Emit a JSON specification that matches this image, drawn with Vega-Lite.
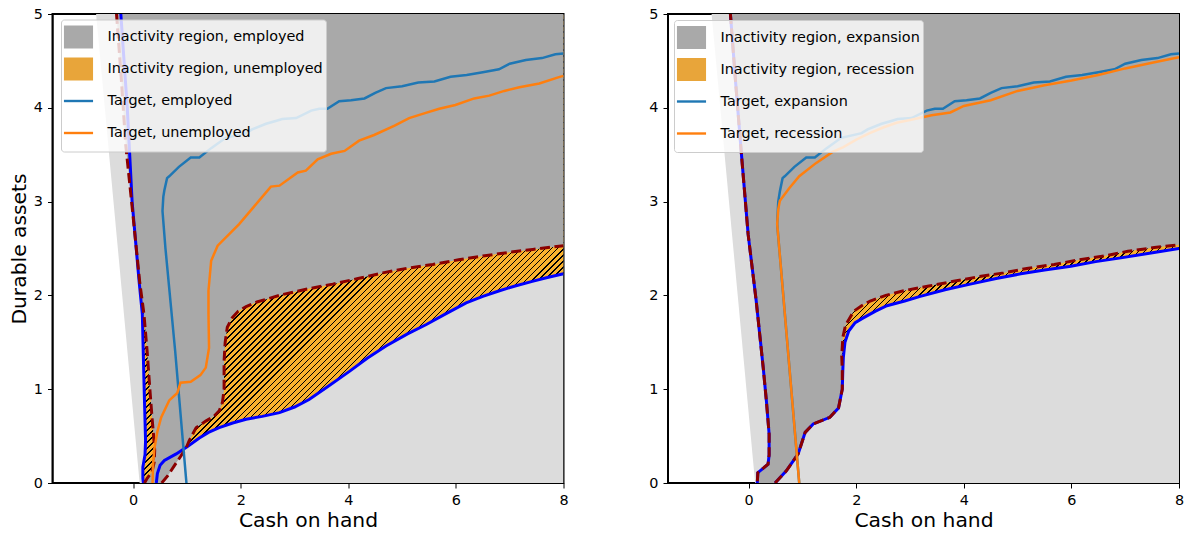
{
"$schema":"https://vega.github.io/schema/vega-lite/v6.json",
"padding":{"left":7.5,"top":5,"right":0,"bottom":0},
"background":"white",
"config":{
"font":"DejaVu Sans",
"view":{"stroke":"#000","strokeWidth":2},
"axis":{"domainColor":"#000","domainWidth":1,"tickColor":"#000","tickWidth":1,"tickSize":5,"labelPadding":5,"labelColor":"#000","labelFont":"DejaVu Sans","labelFontSize":14.4,"titleFont":"DejaVu Sans","titleFontSize":20.3,"titleFontWeight":"normal","titleColor":"#000","grid":false,"zindex":1,"labelFlush":false},
"axisX":{"titlePadding":4.5},
"axisY":{"titlePadding":4}
},
"datasets":{
"feas":[{"x":-0.69,"y":5},{"x":8,"y":5},{"x":8,"y":0},{"x":0.12,"y":0}],
"a_leg":[{"s":"Inactivity region, employed","x":8,"y":5},{"s":"Inactivity region, unemployed","x":8,"y":5},{"s":"Target, employed","x":8,"y":5},{"s":"Target, unemployed","x":8,"y":5}],
"b_leg":[{"s":"Inactivity region, expansion","x":8,"y":5},{"s":"Inactivity region, recession","x":8,"y":5},{"s":"Target, expansion","x":8,"y":5},{"s":"Target, recession","x":8,"y":5}],
"a_bp":[{"x":-0.23,"y":5},{"x":-0.11,"y":4},{"x":-0.02,"y":3},{"x":0.11,"y":2.15},{"x":0.17,"y":1.8},{"x":0.2,"y":1.09},{"x":0.23,"y":0.45},{"x":0.22,"y":0.3},{"x":0.18,"y":0.17},{"x":0.18,"y":0.05},{"x":0.19,"y":0},{"x":0.43,"y":0},{"x":0.45,"y":0.1},{"x":0.5,"y":0.19},{"x":0.58,"y":0.24},{"x":0.8,"y":0.31},{"x":1.01,"y":0.39},{"x":1.23,"y":0.48},{"x":1.4,"y":0.54},{"x":1.6,"y":0.59},{"x":1.85,"y":0.64},{"x":2.1,"y":0.68},{"x":2.4,"y":0.71},{"x":2.72,"y":0.75},{"x":3,"y":0.81},{"x":3.27,"y":0.89},{"x":3.6,"y":1.02},{"x":4.02,"y":1.19},{"x":4.35,"y":1.33},{"x":4.7,"y":1.46},{"x":5.1,"y":1.59},{"x":5.45,"y":1.69},{"x":5.8,"y":1.8},{"x":6.19,"y":1.92},{"x":6.5,"y":1.99},{"x":6.81,"y":2.05},{"x":7.1,"y":2.1},{"x":7.42,"y":2.15},{"x":7.7,"y":2.19},{"x":8,"y":2.23},{"x":8,"y":5}],
"a_bl":[{"seg":"L","x":-0.23,"y":5},{"seg":"L","x":-0.11,"y":4},{"seg":"L","x":-0.02,"y":3},{"seg":"L","x":0.11,"y":2.15},{"seg":"L","x":0.17,"y":1.8},{"seg":"L","x":0.2,"y":1.09},{"seg":"L","x":0.23,"y":0.45},{"seg":"L","x":0.22,"y":0.3},{"seg":"L","x":0.18,"y":0.17},{"seg":"L","x":0.18,"y":0.05},{"seg":"L","x":0.19,"y":0},{"seg":"R","x":0.43,"y":0},{"seg":"R","x":0.45,"y":0.1},{"seg":"R","x":0.5,"y":0.19},{"seg":"R","x":0.58,"y":0.24},{"seg":"R","x":0.8,"y":0.31},{"seg":"R","x":1.01,"y":0.39},{"seg":"R","x":1.23,"y":0.48},{"seg":"R","x":1.4,"y":0.54},{"seg":"R","x":1.6,"y":0.59},{"seg":"R","x":1.85,"y":0.64},{"seg":"R","x":2.1,"y":0.68},{"seg":"R","x":2.4,"y":0.71},{"seg":"R","x":2.72,"y":0.75},{"seg":"R","x":3,"y":0.81},{"seg":"R","x":3.27,"y":0.89},{"seg":"R","x":3.6,"y":1.02},{"seg":"R","x":4.02,"y":1.19},{"seg":"R","x":4.35,"y":1.33},{"seg":"R","x":4.7,"y":1.46},{"seg":"R","x":5.1,"y":1.59},{"seg":"R","x":5.45,"y":1.69},{"seg":"R","x":5.8,"y":1.8},{"seg":"R","x":6.19,"y":1.92},{"seg":"R","x":6.5,"y":1.99},{"seg":"R","x":6.81,"y":2.05},{"seg":"R","x":7.1,"y":2.1},{"seg":"R","x":7.42,"y":2.15},{"seg":"R","x":7.7,"y":2.19},{"seg":"R","x":8,"y":2.23}],
"a_dp":[{"x":-0.31,"y":5},{"x":-0.22,"y":4.3},{"x":-0.14,"y":3.61},{"x":-0.03,"y":3},{"x":0.12,"y":2.15},{"x":0.2,"y":1.8},{"x":0.26,"y":1.4},{"x":0.31,"y":1},{"x":0.35,"y":0.7},{"x":0.38,"y":0.5},{"x":0.4,"y":0.35},{"x":0.39,"y":0.22},{"x":0.35,"y":0.12},{"x":0.26,"y":0.05},{"x":0.21,"y":0},{"x":0.53,"y":0},{"x":0.64,"y":0.075},{"x":0.76,"y":0.18},{"x":0.89,"y":0.29},{"x":0.99,"y":0.38},{"x":1.04,"y":0.45},{"x":1.17,"y":0.59},{"x":1.35,"y":0.66},{"x":1.5,"y":0.71},{"x":1.6,"y":0.77},{"x":1.66,"y":0.86},{"x":1.69,"y":1},{"x":1.69,"y":1.3},{"x":1.71,"y":1.5},{"x":1.75,"y":1.66},{"x":1.84,"y":1.76},{"x":1.95,"y":1.83},{"x":2.1,"y":1.88},{"x":2.3,"y":1.93},{"x":2.78,"y":2.01},{"x":3.25,"y":2.07},{"x":3.71,"y":2.12},{"x":4.18,"y":2.18},{"x":4.64,"y":2.24},{"x":5.1,"y":2.29},{"x":5.57,"y":2.33},{"x":6.05,"y":2.38},{"x":6.5,"y":2.42},{"x":7,"y":2.46},{"x":7.43,"y":2.49},{"x":8,"y":2.53},{"x":8,"y":5}],
"a_dl":[{"seg":"L","x":-0.31,"y":5},{"seg":"L","x":-0.22,"y":4.3},{"seg":"L","x":-0.14,"y":3.61},{"seg":"L","x":-0.03,"y":3},{"seg":"L","x":0.12,"y":2.15},{"seg":"L","x":0.2,"y":1.8},{"seg":"L","x":0.26,"y":1.4},{"seg":"L","x":0.31,"y":1},{"seg":"L","x":0.35,"y":0.7},{"seg":"L","x":0.38,"y":0.5},{"seg":"L","x":0.4,"y":0.35},{"seg":"L","x":0.39,"y":0.22},{"seg":"L","x":0.35,"y":0.12},{"seg":"L","x":0.26,"y":0.05},{"seg":"L","x":0.21,"y":0},{"seg":"R","x":0.53,"y":0},{"seg":"R","x":0.64,"y":0.075},{"seg":"R","x":0.76,"y":0.18},{"seg":"R","x":0.89,"y":0.29},{"seg":"R","x":0.99,"y":0.38},{"seg":"R","x":1.04,"y":0.45},{"seg":"R","x":1.17,"y":0.59},{"seg":"R","x":1.35,"y":0.66},{"seg":"R","x":1.5,"y":0.71},{"seg":"R","x":1.6,"y":0.77},{"seg":"R","x":1.66,"y":0.86},{"seg":"R","x":1.69,"y":1},{"seg":"R","x":1.69,"y":1.3},{"seg":"R","x":1.71,"y":1.5},{"seg":"R","x":1.75,"y":1.66},{"seg":"R","x":1.84,"y":1.76},{"seg":"R","x":1.95,"y":1.83},{"seg":"R","x":2.1,"y":1.88},{"seg":"R","x":2.3,"y":1.93},{"seg":"R","x":2.78,"y":2.01},{"seg":"R","x":3.25,"y":2.07},{"seg":"R","x":3.71,"y":2.12},{"seg":"R","x":4.18,"y":2.18},{"seg":"R","x":4.64,"y":2.24},{"seg":"R","x":5.1,"y":2.29},{"seg":"R","x":5.57,"y":2.33},{"seg":"R","x":6.05,"y":2.38},{"seg":"R","x":6.5,"y":2.42},{"seg":"R","x":7,"y":2.46},{"seg":"R","x":7.43,"y":2.49},{"seg":"R","x":8,"y":2.53}],
"a_t":[{"s":"Target, employed","x":0.99,"y":0},{"s":"Target, employed","x":0.78,"y":1.41},{"s":"Target, employed","x":0.6,"y":2.5},{"s":"Target, employed","x":0.545,"y":2.9},{"s":"Target, employed","x":0.56,"y":3.05},{"s":"Target, employed","x":0.58,"y":3.12},{"s":"Target, employed","x":0.63,"y":3.25},{"s":"Target, employed","x":0.67,"y":3.27},{"s":"Target, employed","x":0.85,"y":3.37},{"s":"Target, employed","x":1.07,"y":3.47},{"s":"Target, employed","x":1.23,"y":3.47},{"s":"Target, employed","x":1.45,"y":3.57},{"s":"Target, employed","x":1.72,"y":3.68},{"s":"Target, employed","x":2.1,"y":3.73},{"s":"Target, employed","x":2.21,"y":3.77},{"s":"Target, employed","x":2.47,"y":3.83},{"s":"Target, employed","x":2.65,"y":3.86},{"s":"Target, employed","x":2.77,"y":3.88},{"s":"Target, employed","x":3.03,"y":3.89},{"s":"Target, employed","x":3.31,"y":3.97},{"s":"Target, employed","x":3.46,"y":3.99},{"s":"Target, employed","x":3.61,"y":3.99},{"s":"Target, employed","x":3.83,"y":4.07},{"s":"Target, employed","x":4.05,"y":4.08},{"s":"Target, employed","x":4.3,"y":4.1},{"s":"Target, employed","x":4.5,"y":4.16},{"s":"Target, employed","x":4.7,"y":4.21},{"s":"Target, employed","x":5,"y":4.23},{"s":"Target, employed","x":5.3,"y":4.27},{"s":"Target, employed","x":5.6,"y":4.28},{"s":"Target, employed","x":5.9,"y":4.33},{"s":"Target, employed","x":6.2,"y":4.35},{"s":"Target, employed","x":6.5,"y":4.38},{"s":"Target, employed","x":6.8,"y":4.41},{"s":"Target, employed","x":7,"y":4.47},{"s":"Target, employed","x":7.3,"y":4.51},{"s":"Target, employed","x":7.6,"y":4.53},{"s":"Target, employed","x":7.85,"y":4.57},{"s":"Target, employed","x":8,"y":4.58},
{"s":"Target, unemployed","x":0.36,"y":0},{"s":"Target, unemployed","x":0.37,"y":0.2},{"s":"Target, unemployed","x":0.39,"y":0.35},{"s":"Target, unemployed","x":0.45,"y":0.55},{"s":"Target, unemployed","x":0.52,"y":0.7},{"s":"Target, unemployed","x":0.67,"y":0.88},{"s":"Target, unemployed","x":0.82,"y":0.96},{"s":"Target, unemployed","x":0.88,"y":1.07},{"s":"Target, unemployed","x":1.07,"y":1.08},{"s":"Target, unemployed","x":1.25,"y":1.15},{"s":"Target, unemployed","x":1.35,"y":1.23},{"s":"Target, unemployed","x":1.41,"y":1.44},{"s":"Target, unemployed","x":1.4,"y":1.8},{"s":"Target, unemployed","x":1.4,"y":2.05},{"s":"Target, unemployed","x":1.45,"y":2.37},{"s":"Target, unemployed","x":1.57,"y":2.53},{"s":"Target, unemployed","x":1.97,"y":2.76},{"s":"Target, unemployed","x":2.34,"y":3.01},{"s":"Target, unemployed","x":2.56,"y":3.16},{"s":"Target, unemployed","x":2.72,"y":3.17},{"s":"Target, unemployed","x":3.06,"y":3.31},{"s":"Target, unemployed","x":3.21,"y":3.33},{"s":"Target, unemployed","x":3.43,"y":3.45},{"s":"Target, unemployed","x":3.68,"y":3.51},{"s":"Target, unemployed","x":3.93,"y":3.54},{"s":"Target, unemployed","x":4.2,"y":3.65},{"s":"Target, unemployed","x":4.48,"y":3.71},{"s":"Target, unemployed","x":4.86,"y":3.81},{"s":"Target, unemployed","x":5.13,"y":3.89},{"s":"Target, unemployed","x":5.41,"y":3.94},{"s":"Target, unemployed","x":5.69,"y":3.99},{"s":"Target, unemployed","x":5.99,"y":4.03},{"s":"Target, unemployed","x":6.34,"y":4.1},{"s":"Target, unemployed","x":6.62,"y":4.13},{"s":"Target, unemployed","x":6.9,"y":4.18},{"s":"Target, unemployed","x":7.18,"y":4.22},{"s":"Target, unemployed","x":7.55,"y":4.26},{"s":"Target, unemployed","x":7.93,"y":4.33},{"s":"Target, unemployed","x":8,"y":4.34}],
"b_bp":[{"x":-0.34,"y":5},{"x":-0.24,"y":4.25},{"x":-0.14,"y":3.54},{"x":-0.01,"y":2.65},{"x":0.14,"y":1.94},{"x":0.27,"y":1.23},{"x":0.33,"y":0.87},{"x":0.38,"y":0.52},{"x":0.38,"y":0.3},{"x":0.36,"y":0.2},{"x":0.17,"y":0.11},{"x":0.16,"y":0},{"x":0.49,"y":0},{"x":0.7,"y":0.13},{"x":0.92,"y":0.31},{"x":1.05,"y":0.54},{"x":1.2,"y":0.63},{"x":1.51,"y":0.7},{"x":1.67,"y":0.8},{"x":1.74,"y":1},{"x":1.75,"y":1.2},{"x":1.76,"y":1.34},{"x":1.79,"y":1.5},{"x":1.86,"y":1.62},{"x":1.98,"y":1.71},{"x":2.13,"y":1.76},{"x":2.35,"y":1.83},{"x":2.57,"y":1.89},{"x":2.9,"y":1.94},{"x":3.19,"y":1.99},{"x":3.65,"y":2.06},{"x":4.12,"y":2.12},{"x":4.6,"y":2.18},{"x":5.06,"y":2.23},{"x":5.5,"y":2.27},{"x":5.99,"y":2.31},{"x":6.45,"y":2.36},{"x":6.92,"y":2.4},{"x":7.45,"y":2.45},{"x":8,"y":2.5},{"x":8,"y":5}],
"b_bl":[{"seg":"L","x":-0.34,"y":5},{"seg":"L","x":-0.24,"y":4.25},{"seg":"L","x":-0.14,"y":3.54},{"seg":"L","x":-0.01,"y":2.65},{"seg":"L","x":0.14,"y":1.94},{"seg":"L","x":0.27,"y":1.23},{"seg":"L","x":0.33,"y":0.87},{"seg":"L","x":0.38,"y":0.52},{"seg":"L","x":0.38,"y":0.3},{"seg":"L","x":0.36,"y":0.2},{"seg":"L","x":0.17,"y":0.11},{"seg":"L","x":0.16,"y":0},{"seg":"R","x":0.49,"y":0},{"seg":"R","x":0.7,"y":0.13},{"seg":"R","x":0.92,"y":0.31},{"seg":"R","x":1.05,"y":0.54},{"seg":"R","x":1.2,"y":0.63},{"seg":"R","x":1.51,"y":0.7},{"seg":"R","x":1.67,"y":0.8},{"seg":"R","x":1.74,"y":1},{"seg":"R","x":1.75,"y":1.2},{"seg":"R","x":1.76,"y":1.34},{"seg":"R","x":1.79,"y":1.5},{"seg":"R","x":1.86,"y":1.62},{"seg":"R","x":1.98,"y":1.71},{"seg":"R","x":2.13,"y":1.76},{"seg":"R","x":2.35,"y":1.83},{"seg":"R","x":2.57,"y":1.89},{"seg":"R","x":2.9,"y":1.94},{"seg":"R","x":3.19,"y":1.99},{"seg":"R","x":3.65,"y":2.06},{"seg":"R","x":4.12,"y":2.12},{"seg":"R","x":4.6,"y":2.18},{"seg":"R","x":5.06,"y":2.23},{"seg":"R","x":5.5,"y":2.27},{"seg":"R","x":5.99,"y":2.31},{"seg":"R","x":6.45,"y":2.36},{"seg":"R","x":6.92,"y":2.4},{"seg":"R","x":7.45,"y":2.45},{"seg":"R","x":8,"y":2.5}],
"b_dp":[{"x":-0.34,"y":5},{"x":-0.24,"y":4.25},{"x":-0.14,"y":3.54},{"x":-0.01,"y":2.65},{"x":0.14,"y":1.94},{"x":0.27,"y":1.23},{"x":0.33,"y":0.87},{"x":0.38,"y":0.52},{"x":0.38,"y":0.3},{"x":0.36,"y":0.2},{"x":0.17,"y":0.11},{"x":0.16,"y":0},{"x":0.49,"y":0},{"x":0.7,"y":0.13},{"x":0.92,"y":0.31},{"x":1.05,"y":0.54},{"x":1.2,"y":0.63},{"x":1.51,"y":0.7},{"x":1.67,"y":0.8},{"x":1.74,"y":1},{"x":1.74,"y":1.2},{"x":1.73,"y":1.35},{"x":1.75,"y":1.55},{"x":1.8,"y":1.68},{"x":1.95,"y":1.83},{"x":2.1,"y":1.89},{"x":2.26,"y":1.94},{"x":2.55,"y":2},{"x":2.88,"y":2.05},{"x":3.35,"y":2.1},{"x":3.81,"y":2.15},{"x":4.28,"y":2.2},{"x":4.74,"y":2.24},{"x":5.2,"y":2.29},{"x":5.68,"y":2.33},{"x":6.15,"y":2.38},{"x":6.61,"y":2.42},{"x":7.05,"y":2.47},{"x":7.54,"y":2.51},{"x":8,"y":2.54},{"x":8,"y":5}],
"b_dl":[{"seg":"L","x":-0.34,"y":5},{"seg":"L","x":-0.24,"y":4.25},{"seg":"L","x":-0.14,"y":3.54},{"seg":"L","x":-0.01,"y":2.65},{"seg":"L","x":0.14,"y":1.94},{"seg":"L","x":0.27,"y":1.23},{"seg":"L","x":0.33,"y":0.87},{"seg":"L","x":0.38,"y":0.52},{"seg":"L","x":0.38,"y":0.3},{"seg":"L","x":0.36,"y":0.2},{"seg":"L","x":0.17,"y":0.11},{"seg":"L","x":0.16,"y":0},{"seg":"R","x":0.49,"y":0},{"seg":"R","x":0.7,"y":0.13},{"seg":"R","x":0.92,"y":0.31},{"seg":"R","x":1.05,"y":0.54},{"seg":"R","x":1.2,"y":0.63},{"seg":"R","x":1.51,"y":0.7},{"seg":"R","x":1.67,"y":0.8},{"seg":"R","x":1.74,"y":1},{"seg":"R","x":1.74,"y":1.2},{"seg":"R","x":1.73,"y":1.35},{"seg":"R","x":1.75,"y":1.55},{"seg":"R","x":1.8,"y":1.68},{"seg":"R","x":1.95,"y":1.83},{"seg":"R","x":2.1,"y":1.89},{"seg":"R","x":2.26,"y":1.94},{"seg":"R","x":2.55,"y":2},{"seg":"R","x":2.88,"y":2.05},{"seg":"R","x":3.35,"y":2.1},{"seg":"R","x":3.81,"y":2.15},{"seg":"R","x":4.28,"y":2.2},{"seg":"R","x":4.74,"y":2.24},{"seg":"R","x":5.2,"y":2.29},{"seg":"R","x":5.68,"y":2.33},{"seg":"R","x":6.15,"y":2.38},{"seg":"R","x":6.61,"y":2.42},{"seg":"R","x":7.05,"y":2.47},{"seg":"R","x":7.54,"y":2.51},{"seg":"R","x":8,"y":2.54}],
"b_t":[{"s":"Target, expansion","x":0.94,"y":0},{"s":"Target, expansion","x":0.53,"y":2.76},{"s":"Target, expansion","x":0.55,"y":3},{"s":"Target, expansion","x":0.58,"y":3.11},{"s":"Target, expansion","x":0.63,"y":3.25},{"s":"Target, expansion","x":0.67,"y":3.27},{"s":"Target, expansion","x":0.85,"y":3.37},{"s":"Target, expansion","x":1.07,"y":3.47},{"s":"Target, expansion","x":1.23,"y":3.47},{"s":"Target, expansion","x":1.45,"y":3.57},{"s":"Target, expansion","x":1.72,"y":3.68},{"s":"Target, expansion","x":2.1,"y":3.73},{"s":"Target, expansion","x":2.21,"y":3.77},{"s":"Target, expansion","x":2.47,"y":3.83},{"s":"Target, expansion","x":2.65,"y":3.86},{"s":"Target, expansion","x":2.77,"y":3.88},{"s":"Target, expansion","x":3.03,"y":3.89},{"s":"Target, expansion","x":3.31,"y":3.97},{"s":"Target, expansion","x":3.46,"y":3.99},{"s":"Target, expansion","x":3.61,"y":3.99},{"s":"Target, expansion","x":3.83,"y":4.07},{"s":"Target, expansion","x":4.05,"y":4.08},{"s":"Target, expansion","x":4.3,"y":4.1},{"s":"Target, expansion","x":4.5,"y":4.16},{"s":"Target, expansion","x":4.7,"y":4.21},{"s":"Target, expansion","x":5,"y":4.23},{"s":"Target, expansion","x":5.3,"y":4.27},{"s":"Target, expansion","x":5.6,"y":4.28},{"s":"Target, expansion","x":5.9,"y":4.33},{"s":"Target, expansion","x":6.2,"y":4.35},{"s":"Target, expansion","x":6.5,"y":4.38},{"s":"Target, expansion","x":6.8,"y":4.41},{"s":"Target, expansion","x":7,"y":4.47},{"s":"Target, expansion","x":7.3,"y":4.51},{"s":"Target, expansion","x":7.6,"y":4.53},{"s":"Target, expansion","x":7.85,"y":4.57},{"s":"Target, expansion","x":8,"y":4.58},
{"s":"Target, recession","x":0.94,"y":0},{"s":"Target, recession","x":0.53,"y":2.76},{"s":"Target, recession","x":0.55,"y":2.92},{"s":"Target, recession","x":0.58,"y":3.01},{"s":"Target, recession","x":0.75,"y":3.14},{"s":"Target, recession","x":0.94,"y":3.27},{"s":"Target, recession","x":1.25,"y":3.41},{"s":"Target, recession","x":1.56,"y":3.53},{"s":"Target, recession","x":1.76,"y":3.58},{"s":"Target, recession","x":2,"y":3.66},{"s":"Target, recession","x":2.25,"y":3.73},{"s":"Target, recession","x":2.5,"y":3.79},{"s":"Target, recession","x":2.75,"y":3.84},{"s":"Target, recession","x":3,"y":3.87},{"s":"Target, recession","x":3.4,"y":3.92},{"s":"Target, recession","x":3.75,"y":3.95},{"s":"Target, recession","x":4,"y":4.02},{"s":"Target, recession","x":4.5,"y":4.08},{"s":"Target, recession","x":5,"y":4.18},{"s":"Target, recession","x":5.5,"y":4.24},{"s":"Target, recession","x":6,"y":4.29},{"s":"Target, recession","x":6.5,"y":4.35},{"s":"Target, recession","x":7,"y":4.42},{"s":"Target, recession","x":7.5,"y":4.48},{"s":"Target, recession","x":8,"y":4.54}]
},
"hconcat":[
{"width":511,"height":469,
"encoding":{
"x":{"field":"x","type":"quantitative","scale":{"domain":[-1.5,8],"nice":false,"zero":false},"axis":{"values":[0,2,4,6,8],"format":"d","title":"Cash on hand"}},
"y":{"field":"y","type":"quantitative","scale":{"domain":[0,5],"nice":false,"zero":false},"axis":{"values":[0,1,2,3,4,5],"format":"d","title":"Durable assets"}}
},
"layer":[
{"data":{"name":"feas"},"mark":{"type":"line","fill":"#dcdcdc","stroke":"transparent","clip":true},"encoding":{"order":{"value":null}}},
{"data":{"name":"a_bp"},"mark":{"type":"line","stroke":"transparent","clip":true,"fill":{"gradient":"linear","x1":0,"y1":0,"x2":0.9703,"y2":1.028,"stops":[{"offset":0,"color":"#fab22e"},
{"offset":0.3,"color":"#fab22e"},{"offset":0.3,"color":"#000"},{"offset":0.3017,"color":"#000"},{"offset":0.3017,"color":"#fab22e"},
{"offset":0.3066,"color":"#fab22e"},{"offset":0.3066,"color":"#000"},{"offset":0.3083,"color":"#000"},{"offset":0.3083,"color":"#fab22e"},
{"offset":0.3132,"color":"#fab22e"},{"offset":0.3132,"color":"#000"},{"offset":0.3149,"color":"#000"},{"offset":0.3149,"color":"#fab22e"},
{"offset":0.3198,"color":"#fab22e"},{"offset":0.3198,"color":"#000"},{"offset":0.3215,"color":"#000"},{"offset":0.3215,"color":"#fab22e"},
{"offset":0.3264,"color":"#fab22e"},{"offset":0.3264,"color":"#000"},{"offset":0.3281,"color":"#000"},{"offset":0.3281,"color":"#fab22e"},
{"offset":0.333,"color":"#fab22e"},{"offset":0.333,"color":"#000"},{"offset":0.3347,"color":"#000"},{"offset":0.3347,"color":"#fab22e"},
{"offset":0.3396,"color":"#fab22e"},{"offset":0.3396,"color":"#000"},{"offset":0.3413,"color":"#000"},{"offset":0.3413,"color":"#fab22e"},
{"offset":0.3462,"color":"#fab22e"},{"offset":0.3462,"color":"#000"},{"offset":0.3479,"color":"#000"},{"offset":0.3479,"color":"#fab22e"},
{"offset":0.3528,"color":"#fab22e"},{"offset":0.3528,"color":"#000"},{"offset":0.3545,"color":"#000"},{"offset":0.3545,"color":"#fab22e"},
{"offset":0.3594,"color":"#fab22e"},{"offset":0.3594,"color":"#000"},{"offset":0.3611,"color":"#000"},{"offset":0.3611,"color":"#fab22e"},
{"offset":0.366,"color":"#fab22e"},{"offset":0.366,"color":"#000"},{"offset":0.3677,"color":"#000"},{"offset":0.3677,"color":"#fab22e"},
{"offset":0.3726,"color":"#fab22e"},{"offset":0.3726,"color":"#000"},{"offset":0.3743,"color":"#000"},{"offset":0.3743,"color":"#fab22e"},
{"offset":0.3792,"color":"#fab22e"},{"offset":0.3792,"color":"#000"},{"offset":0.3809,"color":"#000"},{"offset":0.3809,"color":"#fab22e"},
{"offset":0.3858,"color":"#fab22e"},{"offset":0.3858,"color":"#000"},{"offset":0.3875,"color":"#000"},{"offset":0.3875,"color":"#fab22e"},
{"offset":0.3924,"color":"#fab22e"},{"offset":0.3924,"color":"#000"},{"offset":0.3941,"color":"#000"},{"offset":0.3941,"color":"#fab22e"},
{"offset":0.399,"color":"#fab22e"},{"offset":0.399,"color":"#000"},{"offset":0.4007,"color":"#000"},{"offset":0.4007,"color":"#fab22e"},
{"offset":0.4056,"color":"#fab22e"},{"offset":0.4056,"color":"#000"},{"offset":0.4073,"color":"#000"},{"offset":0.4073,"color":"#fab22e"},
{"offset":0.4122,"color":"#fab22e"},{"offset":0.4122,"color":"#000"},{"offset":0.4139,"color":"#000"},{"offset":0.4139,"color":"#fab22e"},
{"offset":0.4188,"color":"#fab22e"},{"offset":0.4188,"color":"#000"},{"offset":0.4205,"color":"#000"},{"offset":0.4205,"color":"#fab22e"},
{"offset":0.4254,"color":"#fab22e"},{"offset":0.4254,"color":"#000"},{"offset":0.4271,"color":"#000"},{"offset":0.4271,"color":"#fab22e"},
{"offset":0.432,"color":"#fab22e"},{"offset":0.432,"color":"#000"},{"offset":0.4337,"color":"#000"},{"offset":0.4337,"color":"#fab22e"},
{"offset":0.4386,"color":"#fab22e"},{"offset":0.4386,"color":"#000"},{"offset":0.4403,"color":"#000"},{"offset":0.4403,"color":"#fab22e"},
{"offset":0.4452,"color":"#fab22e"},{"offset":0.4452,"color":"#000"},{"offset":0.4469,"color":"#000"},{"offset":0.4469,"color":"#fab22e"},
{"offset":0.4518,"color":"#fab22e"},{"offset":0.4518,"color":"#000"},{"offset":0.4535,"color":"#000"},{"offset":0.4535,"color":"#fab22e"},
{"offset":0.4584,"color":"#fab22e"},{"offset":0.4584,"color":"#000"},{"offset":0.4601,"color":"#000"},{"offset":0.4601,"color":"#fab22e"},
{"offset":0.465,"color":"#fab22e"},{"offset":0.465,"color":"#000"},{"offset":0.4667,"color":"#000"},{"offset":0.4667,"color":"#fab22e"},
{"offset":0.4716,"color":"#fab22e"},{"offset":0.4716,"color":"#000"},{"offset":0.4733,"color":"#000"},{"offset":0.4733,"color":"#fab22e"},
{"offset":0.4782,"color":"#fab22e"},{"offset":0.4782,"color":"#000"},{"offset":0.4799,"color":"#000"},{"offset":0.4799,"color":"#fab22e"},
{"offset":0.4848,"color":"#fab22e"},{"offset":0.4848,"color":"#000"},{"offset":0.4865,"color":"#000"},{"offset":0.4865,"color":"#fab22e"},
{"offset":0.4914,"color":"#fab22e"},{"offset":0.4914,"color":"#000"},{"offset":0.4931,"color":"#000"},{"offset":0.4931,"color":"#fab22e"},
{"offset":0.498,"color":"#fab22e"},{"offset":0.498,"color":"#000"},{"offset":0.4997,"color":"#000"},{"offset":0.4997,"color":"#fab22e"},
{"offset":0.5046,"color":"#fab22e"},{"offset":0.5046,"color":"#000"},{"offset":0.5063,"color":"#000"},{"offset":0.5063,"color":"#fab22e"},
{"offset":0.5112,"color":"#fab22e"},{"offset":0.5112,"color":"#000"},{"offset":0.5129,"color":"#000"},{"offset":0.5129,"color":"#fab22e"},
{"offset":0.5178,"color":"#fab22e"},{"offset":0.5178,"color":"#000"},{"offset":0.5195,"color":"#000"},{"offset":0.5195,"color":"#fab22e"},
{"offset":0.5244,"color":"#fab22e"},{"offset":0.5244,"color":"#000"},{"offset":0.5261,"color":"#000"},{"offset":0.5261,"color":"#fab22e"},
{"offset":0.531,"color":"#fab22e"},{"offset":0.531,"color":"#000"},{"offset":0.5327,"color":"#000"},{"offset":0.5327,"color":"#fab22e"},
{"offset":0.5376,"color":"#fab22e"},{"offset":0.5376,"color":"#000"},{"offset":0.5393,"color":"#000"},{"offset":0.5393,"color":"#fab22e"},
{"offset":0.5442,"color":"#fab22e"},{"offset":0.5442,"color":"#000"},{"offset":0.5459,"color":"#000"},{"offset":0.5459,"color":"#fab22e"},
{"offset":0.5508,"color":"#fab22e"},{"offset":0.5508,"color":"#000"},{"offset":0.5525,"color":"#000"},{"offset":0.5525,"color":"#fab22e"},
{"offset":0.5574,"color":"#fab22e"},{"offset":0.5574,"color":"#000"},{"offset":0.5591,"color":"#000"},{"offset":0.5591,"color":"#fab22e"},
{"offset":0.564,"color":"#fab22e"},{"offset":0.564,"color":"#000"},{"offset":0.5657,"color":"#000"},{"offset":0.5657,"color":"#fab22e"},
{"offset":0.5706,"color":"#fab22e"},{"offset":0.5706,"color":"#000"},{"offset":0.5723,"color":"#000"},{"offset":0.5723,"color":"#fab22e"},
{"offset":0.5772,"color":"#fab22e"},{"offset":0.5772,"color":"#000"},{"offset":0.5789,"color":"#000"},{"offset":0.5789,"color":"#fab22e"},
{"offset":0.5838,"color":"#fab22e"},{"offset":0.5838,"color":"#000"},{"offset":0.5855,"color":"#000"},{"offset":0.5855,"color":"#fab22e"},
{"offset":0.5904,"color":"#fab22e"},{"offset":0.5904,"color":"#000"},{"offset":0.5921,"color":"#000"},{"offset":0.5921,"color":"#fab22e"},
{"offset":0.597,"color":"#fab22e"},{"offset":0.597,"color":"#000"},{"offset":0.5987,"color":"#000"},{"offset":0.5987,"color":"#fab22e"},
{"offset":0.6036,"color":"#fab22e"},{"offset":0.6036,"color":"#000"},{"offset":0.6053,"color":"#000"},{"offset":0.6053,"color":"#fab22e"},
{"offset":0.6102,"color":"#fab22e"},{"offset":0.6102,"color":"#000"},{"offset":0.6119,"color":"#000"},{"offset":0.6119,"color":"#fab22e"},
{"offset":0.6168,"color":"#fab22e"},{"offset":0.6168,"color":"#000"},{"offset":0.6185,"color":"#000"},{"offset":0.6185,"color":"#fab22e"},
{"offset":0.6234,"color":"#fab22e"},{"offset":0.6234,"color":"#000"},{"offset":0.6251,"color":"#000"},{"offset":0.6251,"color":"#fab22e"},
{"offset":0.63,"color":"#fab22e"},{"offset":0.63,"color":"#000"},{"offset":0.6317,"color":"#000"},{"offset":0.6317,"color":"#fab22e"},
{"offset":0.6366,"color":"#fab22e"},{"offset":0.6366,"color":"#000"},{"offset":0.6383,"color":"#000"},{"offset":0.6383,"color":"#fab22e"},
{"offset":0.6432,"color":"#fab22e"},{"offset":0.6432,"color":"#000"},{"offset":0.6449,"color":"#000"},{"offset":0.6449,"color":"#fab22e"},
{"offset":0.6498,"color":"#fab22e"},{"offset":0.6498,"color":"#000"},{"offset":0.6515,"color":"#000"},{"offset":0.6515,"color":"#fab22e"},
{"offset":0.6564,"color":"#fab22e"},{"offset":0.6564,"color":"#000"},{"offset":0.6581,"color":"#000"},{"offset":0.6581,"color":"#fab22e"},
{"offset":0.663,"color":"#fab22e"},{"offset":0.663,"color":"#000"},{"offset":0.6647,"color":"#000"},{"offset":0.6647,"color":"#fab22e"},
{"offset":0.6696,"color":"#fab22e"},{"offset":0.6696,"color":"#000"},{"offset":0.6713,"color":"#000"},{"offset":0.6713,"color":"#fab22e"},
{"offset":0.6762,"color":"#fab22e"},{"offset":0.6762,"color":"#000"},{"offset":0.6779,"color":"#000"},{"offset":0.6779,"color":"#fab22e"},
{"offset":0.6828,"color":"#fab22e"},{"offset":0.6828,"color":"#000"},{"offset":0.6845,"color":"#000"},{"offset":0.6845,"color":"#fab22e"},
{"offset":0.6894,"color":"#fab22e"},{"offset":0.6894,"color":"#000"},{"offset":0.6911,"color":"#000"},{"offset":0.6911,"color":"#fab22e"},
{"offset":0.696,"color":"#fab22e"},{"offset":0.696,"color":"#000"},{"offset":0.6977,"color":"#000"},{"offset":0.6977,"color":"#fab22e"},
{"offset":0.7026,"color":"#fab22e"},{"offset":0.7026,"color":"#000"},{"offset":0.7043,"color":"#000"},{"offset":0.7043,"color":"#fab22e"},
{"offset":0.7092,"color":"#fab22e"},{"offset":0.7092,"color":"#000"},{"offset":0.7109,"color":"#000"},{"offset":0.7109,"color":"#fab22e"},
{"offset":0.7158,"color":"#fab22e"},{"offset":0.7158,"color":"#000"},{"offset":0.7175,"color":"#000"},{"offset":0.7175,"color":"#fab22e"},
{"offset":0.7224,"color":"#fab22e"},{"offset":0.7224,"color":"#000"},{"offset":0.7241,"color":"#000"},{"offset":0.7241,"color":"#fab22e"},
{"offset":0.729,"color":"#fab22e"},{"offset":0.729,"color":"#000"},{"offset":0.7307,"color":"#000"},{"offset":0.7307,"color":"#fab22e"},
{"offset":0.7356,"color":"#fab22e"},{"offset":0.7356,"color":"#000"},{"offset":0.7373,"color":"#000"},{"offset":0.7373,"color":"#fab22e"},
{"offset":0.7422,"color":"#fab22e"},{"offset":0.7422,"color":"#000"},{"offset":0.7439,"color":"#000"},{"offset":0.7439,"color":"#fab22e"},
{"offset":0.7488,"color":"#fab22e"},{"offset":0.7488,"color":"#000"},{"offset":0.7505,"color":"#000"},{"offset":0.7505,"color":"#fab22e"},
{"offset":0.7554,"color":"#fab22e"},{"offset":0.7554,"color":"#000"},{"offset":0.7571,"color":"#000"},{"offset":0.7571,"color":"#fab22e"},
{"offset":0.762,"color":"#fab22e"},{"offset":0.762,"color":"#000"},{"offset":0.7637,"color":"#000"},{"offset":0.7637,"color":"#fab22e"},
{"offset":0.7686,"color":"#fab22e"},{"offset":0.7686,"color":"#000"},{"offset":0.7703,"color":"#000"},{"offset":0.7703,"color":"#fab22e"},
{"offset":0.7752,"color":"#fab22e"},{"offset":0.7752,"color":"#000"},{"offset":0.7769,"color":"#000"},{"offset":0.7769,"color":"#fab22e"},
{"offset":0.7818,"color":"#fab22e"},{"offset":0.7818,"color":"#000"},{"offset":0.7835,"color":"#000"},{"offset":0.7835,"color":"#fab22e"},
{"offset":1,"color":"#fab22e"}]}},"encoding":{"order":{"value":null}}},
{"data":{"name":"a_dp"},"mark":{"type":"line","fill":"#a9a9a9","stroke":"transparent","clip":true},"encoding":{"order":{"value":null}}},
{"data":{"name":"a_bl"},"mark":{"type":"line","stroke":"#0000ff","strokeWidth":3,"clip":true},"encoding":{"detail":{"field":"seg"},"order":{"value":null}}},
{"data":{"name":"a_dl"},"mark":{"type":"line","stroke":"#8b0000","strokeWidth":3,"strokeDash":[10,4.5],"clip":true},"encoding":{"detail":{"field":"seg"},"order":{"value":null}}},
{"data":{"name":"a_t"},"transform":[{"filter":"datum.s === 'Target, employed'"}],"mark":{"type":"line","stroke":"#1f77b4","strokeWidth":2.5,"clip":true},"encoding":{"order":{"value":null}}},
{"data":{"name":"a_t"},"transform":[{"filter":"datum.s === 'Target, unemployed'"}],"mark":{"type":"line","stroke":"#ff7f0e","strokeWidth":2.5,"clip":true},"encoding":{"order":{"value":null}}},
{"data":{"name":"a_leg"},"mark":{"type":"point","filled":true,"opacity":0,"strokeWidth":2.4,"clip":true},"encoding":{
"fill":{"field":"s","type":"nominal","scale":{"domain":["Inactivity region, employed","Inactivity region, unemployed","Target, employed","Target, unemployed"],"range":["#a9a9a9","#e8a53a","transparent","transparent"]},"legend":{"orient":"none","legendX":8.5,"legendY":5.5,"title":null,"symbolSize":713,"symbolStrokeWidth":2.4,"symbolOpacity":1,"labelOffset":14,"rowPadding":0,"padding":2.5,"labelFont":"DejaVu Sans","labelFontSize":14.4,"labelColor":"#000","labelLimit":400,"fillColor":"rgba(255,255,255,0.8)","strokeColor":"#cccccc","cornerRadius":3}},
"stroke":{"field":"s","type":"nominal","scale":{"domain":["Inactivity region, employed","Inactivity region, unemployed","Target, employed","Target, unemployed"],"range":["#a9a9a9","#e8a53a","#1f77b4","#ff7f0e"]},"legend":{"orient":"none","legendX":8.5,"legendY":5.5,"title":null,"symbolSize":713,"symbolStrokeWidth":2.4,"symbolOpacity":1,"labelOffset":14,"rowPadding":0,"padding":2.5,"labelFont":"DejaVu Sans","labelFontSize":14.4,"labelColor":"#000","labelLimit":400,"fillColor":"rgba(255,255,255,0.8)","strokeColor":"#cccccc","cornerRadius":3}},
"shape":{"field":"s","type":"nominal","scale":{"domain":["Inactivity region, employed","Inactivity region, unemployed","Target, employed","Target, unemployed"],"range":["M-1,-0.77H1V0.77H-1Z","M-1,-0.77H1V0.77H-1Z","M-1,-0.77M-1.09,0H1.09M1,0.77","M-1,-0.77M-1.09,0H1.09M1,0.77"]},"legend":{"orient":"none","legendX":8.5,"legendY":5.5,"title":null,"symbolSize":713,"symbolStrokeWidth":2.4,"symbolOpacity":1,"labelOffset":14,"rowPadding":0,"padding":2.5,"labelFont":"DejaVu Sans","labelFontSize":14.4,"labelColor":"#000","labelLimit":400,"fillColor":"rgba(255,255,255,0.8)","strokeColor":"#cccccc","cornerRadius":3}}
}}
]},
{"width":511,"height":469,
"encoding":{
"x":{"field":"x","type":"quantitative","scale":{"domain":[-1.5,8],"nice":false,"zero":false},"axis":{"values":[0,2,4,6,8],"format":"d","title":"Cash on hand"}},
"y":{"field":"y","type":"quantitative","scale":{"domain":[0,5],"nice":false,"zero":false},"axis":{"values":[0,1,2,3,4,5],"format":"d","title":null}}
},
"layer":[
{"data":{"name":"feas"},"mark":{"type":"line","fill":"#dcdcdc","stroke":"transparent","clip":true},"encoding":{"order":{"value":null}}},
{"data":{"name":"b_bp"},"mark":{"type":"line","stroke":"transparent","clip":true,"fill":{"gradient":"linear","x1":0,"y1":0,"x2":0.9773,"y2":1.0217,"stops":[{"offset":0,"color":"#fab22e"},
{"offset":0.4452,"color":"#fab22e"},{"offset":0.4452,"color":"#000"},{"offset":0.4469,"color":"#000"},{"offset":0.4469,"color":"#fab22e"},
{"offset":0.4518,"color":"#fab22e"},{"offset":0.4518,"color":"#000"},{"offset":0.4535,"color":"#000"},{"offset":0.4535,"color":"#fab22e"},
{"offset":0.4584,"color":"#fab22e"},{"offset":0.4584,"color":"#000"},{"offset":0.4601,"color":"#000"},{"offset":0.4601,"color":"#fab22e"},
{"offset":0.465,"color":"#fab22e"},{"offset":0.465,"color":"#000"},{"offset":0.4667,"color":"#000"},{"offset":0.4667,"color":"#fab22e"},
{"offset":0.4716,"color":"#fab22e"},{"offset":0.4716,"color":"#000"},{"offset":0.4733,"color":"#000"},{"offset":0.4733,"color":"#fab22e"},
{"offset":0.4782,"color":"#fab22e"},{"offset":0.4782,"color":"#000"},{"offset":0.4799,"color":"#000"},{"offset":0.4799,"color":"#fab22e"},
{"offset":0.4848,"color":"#fab22e"},{"offset":0.4848,"color":"#000"},{"offset":0.4865,"color":"#000"},{"offset":0.4865,"color":"#fab22e"},
{"offset":0.4914,"color":"#fab22e"},{"offset":0.4914,"color":"#000"},{"offset":0.4931,"color":"#000"},{"offset":0.4931,"color":"#fab22e"},
{"offset":0.498,"color":"#fab22e"},{"offset":0.498,"color":"#000"},{"offset":0.4997,"color":"#000"},{"offset":0.4997,"color":"#fab22e"},
{"offset":0.5046,"color":"#fab22e"},{"offset":0.5046,"color":"#000"},{"offset":0.5063,"color":"#000"},{"offset":0.5063,"color":"#fab22e"},
{"offset":0.5112,"color":"#fab22e"},{"offset":0.5112,"color":"#000"},{"offset":0.5129,"color":"#000"},{"offset":0.5129,"color":"#fab22e"},
{"offset":0.5178,"color":"#fab22e"},{"offset":0.5178,"color":"#000"},{"offset":0.5195,"color":"#000"},{"offset":0.5195,"color":"#fab22e"},
{"offset":0.5244,"color":"#fab22e"},{"offset":0.5244,"color":"#000"},{"offset":0.5261,"color":"#000"},{"offset":0.5261,"color":"#fab22e"},
{"offset":0.531,"color":"#fab22e"},{"offset":0.531,"color":"#000"},{"offset":0.5327,"color":"#000"},{"offset":0.5327,"color":"#fab22e"},
{"offset":0.5376,"color":"#fab22e"},{"offset":0.5376,"color":"#000"},{"offset":0.5393,"color":"#000"},{"offset":0.5393,"color":"#fab22e"},
{"offset":0.5442,"color":"#fab22e"},{"offset":0.5442,"color":"#000"},{"offset":0.5459,"color":"#000"},{"offset":0.5459,"color":"#fab22e"},
{"offset":0.5508,"color":"#fab22e"},{"offset":0.5508,"color":"#000"},{"offset":0.5525,"color":"#000"},{"offset":0.5525,"color":"#fab22e"},
{"offset":0.5574,"color":"#fab22e"},{"offset":0.5574,"color":"#000"},{"offset":0.5591,"color":"#000"},{"offset":0.5591,"color":"#fab22e"},
{"offset":0.564,"color":"#fab22e"},{"offset":0.564,"color":"#000"},{"offset":0.5657,"color":"#000"},{"offset":0.5657,"color":"#fab22e"},
{"offset":0.5706,"color":"#fab22e"},{"offset":0.5706,"color":"#000"},{"offset":0.5723,"color":"#000"},{"offset":0.5723,"color":"#fab22e"},
{"offset":0.5772,"color":"#fab22e"},{"offset":0.5772,"color":"#000"},{"offset":0.5789,"color":"#000"},{"offset":0.5789,"color":"#fab22e"},
{"offset":0.5838,"color":"#fab22e"},{"offset":0.5838,"color":"#000"},{"offset":0.5855,"color":"#000"},{"offset":0.5855,"color":"#fab22e"},
{"offset":0.5904,"color":"#fab22e"},{"offset":0.5904,"color":"#000"},{"offset":0.5921,"color":"#000"},{"offset":0.5921,"color":"#fab22e"},
{"offset":0.597,"color":"#fab22e"},{"offset":0.597,"color":"#000"},{"offset":0.5987,"color":"#000"},{"offset":0.5987,"color":"#fab22e"},
{"offset":0.6036,"color":"#fab22e"},{"offset":0.6036,"color":"#000"},{"offset":0.6053,"color":"#000"},{"offset":0.6053,"color":"#fab22e"},
{"offset":0.6102,"color":"#fab22e"},{"offset":0.6102,"color":"#000"},{"offset":0.6119,"color":"#000"},{"offset":0.6119,"color":"#fab22e"},
{"offset":0.6168,"color":"#fab22e"},{"offset":0.6168,"color":"#000"},{"offset":0.6185,"color":"#000"},{"offset":0.6185,"color":"#fab22e"},
{"offset":0.6234,"color":"#fab22e"},{"offset":0.6234,"color":"#000"},{"offset":0.6251,"color":"#000"},{"offset":0.6251,"color":"#fab22e"},
{"offset":0.63,"color":"#fab22e"},{"offset":0.63,"color":"#000"},{"offset":0.6317,"color":"#000"},{"offset":0.6317,"color":"#fab22e"},
{"offset":0.6366,"color":"#fab22e"},{"offset":0.6366,"color":"#000"},{"offset":0.6383,"color":"#000"},{"offset":0.6383,"color":"#fab22e"},
{"offset":0.6432,"color":"#fab22e"},{"offset":0.6432,"color":"#000"},{"offset":0.6449,"color":"#000"},{"offset":0.6449,"color":"#fab22e"},
{"offset":0.6498,"color":"#fab22e"},{"offset":0.6498,"color":"#000"},{"offset":0.6515,"color":"#000"},{"offset":0.6515,"color":"#fab22e"},
{"offset":0.6564,"color":"#fab22e"},{"offset":0.6564,"color":"#000"},{"offset":0.6581,"color":"#000"},{"offset":0.6581,"color":"#fab22e"},
{"offset":0.663,"color":"#fab22e"},{"offset":0.663,"color":"#000"},{"offset":0.6647,"color":"#000"},{"offset":0.6647,"color":"#fab22e"},
{"offset":0.6696,"color":"#fab22e"},{"offset":0.6696,"color":"#000"},{"offset":0.6713,"color":"#000"},{"offset":0.6713,"color":"#fab22e"},
{"offset":0.6762,"color":"#fab22e"},{"offset":0.6762,"color":"#000"},{"offset":0.6779,"color":"#000"},{"offset":0.6779,"color":"#fab22e"},
{"offset":0.6828,"color":"#fab22e"},{"offset":0.6828,"color":"#000"},{"offset":0.6845,"color":"#000"},{"offset":0.6845,"color":"#fab22e"},
{"offset":0.6894,"color":"#fab22e"},{"offset":0.6894,"color":"#000"},{"offset":0.6911,"color":"#000"},{"offset":0.6911,"color":"#fab22e"},
{"offset":0.696,"color":"#fab22e"},{"offset":0.696,"color":"#000"},{"offset":0.6977,"color":"#000"},{"offset":0.6977,"color":"#fab22e"},
{"offset":0.7026,"color":"#fab22e"},{"offset":0.7026,"color":"#000"},{"offset":0.7043,"color":"#000"},{"offset":0.7043,"color":"#fab22e"},
{"offset":0.7092,"color":"#fab22e"},{"offset":0.7092,"color":"#000"},{"offset":0.7109,"color":"#000"},{"offset":0.7109,"color":"#fab22e"},
{"offset":0.7158,"color":"#fab22e"},{"offset":0.7158,"color":"#000"},{"offset":0.7175,"color":"#000"},{"offset":0.7175,"color":"#fab22e"},
{"offset":0.7224,"color":"#fab22e"},{"offset":0.7224,"color":"#000"},{"offset":0.7241,"color":"#000"},{"offset":0.7241,"color":"#fab22e"},
{"offset":0.729,"color":"#fab22e"},{"offset":0.729,"color":"#000"},{"offset":0.7307,"color":"#000"},{"offset":0.7307,"color":"#fab22e"},
{"offset":0.7356,"color":"#fab22e"},{"offset":0.7356,"color":"#000"},{"offset":0.7373,"color":"#000"},{"offset":0.7373,"color":"#fab22e"},
{"offset":0.7422,"color":"#fab22e"},{"offset":0.7422,"color":"#000"},{"offset":0.7439,"color":"#000"},{"offset":0.7439,"color":"#fab22e"},
{"offset":0.7488,"color":"#fab22e"},{"offset":0.7488,"color":"#000"},{"offset":0.7505,"color":"#000"},{"offset":0.7505,"color":"#fab22e"},
{"offset":0.7554,"color":"#fab22e"},{"offset":0.7554,"color":"#000"},{"offset":0.7571,"color":"#000"},{"offset":0.7571,"color":"#fab22e"},
{"offset":0.762,"color":"#fab22e"},{"offset":0.762,"color":"#000"},{"offset":0.7637,"color":"#000"},{"offset":0.7637,"color":"#fab22e"},
{"offset":0.7686,"color":"#fab22e"},{"offset":0.7686,"color":"#000"},{"offset":0.7703,"color":"#000"},{"offset":0.7703,"color":"#fab22e"},
{"offset":0.7752,"color":"#fab22e"},{"offset":0.7752,"color":"#000"},{"offset":0.7769,"color":"#000"},{"offset":0.7769,"color":"#fab22e"},
{"offset":0.7818,"color":"#fab22e"},{"offset":0.7818,"color":"#000"},{"offset":0.7835,"color":"#000"},{"offset":0.7835,"color":"#fab22e"},
{"offset":1,"color":"#fab22e"}]}},"encoding":{"order":{"value":null}}},
{"data":{"name":"b_dp"},"mark":{"type":"line","fill":"#a9a9a9","stroke":"transparent","clip":true},"encoding":{"order":{"value":null}}},
{"data":{"name":"b_bl"},"mark":{"type":"line","stroke":"#0000ff","strokeWidth":3,"clip":true},"encoding":{"detail":{"field":"seg"},"order":{"value":null}}},
{"data":{"name":"b_dl"},"mark":{"type":"line","stroke":"#8b0000","strokeWidth":3,"strokeDash":[10,4.5],"clip":true},"encoding":{"detail":{"field":"seg"},"order":{"value":null}}},
{"data":{"name":"b_t"},"transform":[{"filter":"datum.s === 'Target, expansion'"}],"mark":{"type":"line","stroke":"#1f77b4","strokeWidth":2.5,"clip":true},"encoding":{"order":{"value":null}}},
{"data":{"name":"b_t"},"transform":[{"filter":"datum.s === 'Target, recession'"}],"mark":{"type":"line","stroke":"#ff7f0e","strokeWidth":2.5,"clip":true},"encoding":{"order":{"value":null}}},
{"data":{"name":"b_leg"},"mark":{"type":"point","filled":true,"opacity":0,"strokeWidth":2.4,"clip":true},"encoding":{
"fill":{"field":"s","type":"nominal","scale":{"domain":["Inactivity region, expansion","Inactivity region, recession","Target, expansion","Target, recession"],"range":["#a9a9a9","#e8a53a","transparent","transparent"]},"legend":{"orient":"none","legendX":6,"legendY":6,"title":null,"symbolSize":713,"symbolStrokeWidth":2.4,"symbolOpacity":1,"labelOffset":14,"rowPadding":0,"padding":2.5,"labelFont":"DejaVu Sans","labelFontSize":14.4,"labelColor":"#000","labelLimit":400,"fillColor":"rgba(255,255,255,0.8)","strokeColor":"#cccccc","cornerRadius":3}},
"stroke":{"field":"s","type":"nominal","scale":{"domain":["Inactivity region, expansion","Inactivity region, recession","Target, expansion","Target, recession"],"range":["#a9a9a9","#e8a53a","#1f77b4","#ff7f0e"]},"legend":{"orient":"none","legendX":6,"legendY":6,"title":null,"symbolSize":713,"symbolStrokeWidth":2.4,"symbolOpacity":1,"labelOffset":14,"rowPadding":0,"padding":2.5,"labelFont":"DejaVu Sans","labelFontSize":14.4,"labelColor":"#000","labelLimit":400,"fillColor":"rgba(255,255,255,0.8)","strokeColor":"#cccccc","cornerRadius":3}},
"shape":{"field":"s","type":"nominal","scale":{"domain":["Inactivity region, expansion","Inactivity region, recession","Target, expansion","Target, recession"],"range":["M-1,-0.77H1V0.77H-1Z","M-1,-0.77H1V0.77H-1Z","M-1,-0.77M-1.09,0H1.09M1,0.77","M-1,-0.77M-1.09,0H1.09M1,0.77"]},"legend":{"orient":"none","legendX":6,"legendY":6,"title":null,"symbolSize":713,"symbolStrokeWidth":2.4,"symbolOpacity":1,"labelOffset":14,"rowPadding":0,"padding":2.5,"labelFont":"DejaVu Sans","labelFontSize":14.4,"labelColor":"#000","labelLimit":400,"fillColor":"rgba(255,255,255,0.8)","strokeColor":"#cccccc","cornerRadius":3}}
}}
]}
],
"spacing":104.5,
"bounds":"flush",
"resolve":{"scale":{"fill":"independent","stroke":"independent","shape":"independent"},"legend":{"fill":"independent","stroke":"independent","shape":"independent"}}
}
